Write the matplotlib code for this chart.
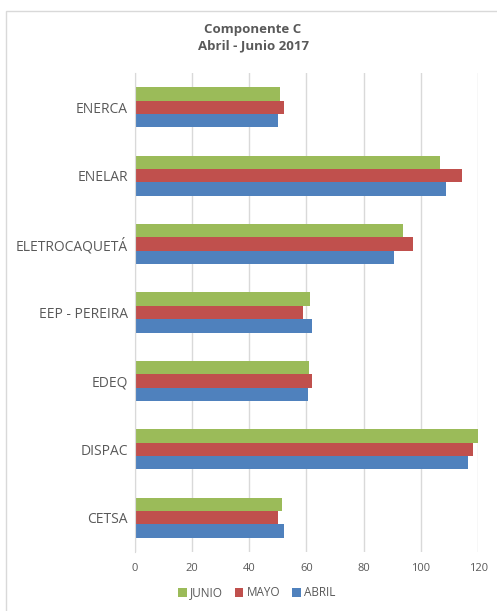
import matplotlib.pyplot as plt
from matplotlib.patches import Rectangle
import numpy as np

# Data, bottom to top as in the source chart
empresas = ["CETSA", "DISPAC", "EDEQ", "EEP - PEREIRA", "ELETROCAQUETÁ",
            "ENELAR", "ENERCA"]
abril = [52.0, 116.4, 60.4, 62.0, 90.5, 108.6, 49.9]
mayo = [49.9, 118.1, 62.0, 58.9, 97.1, 114.3, 52.2]
junio = [51.4, 120.2, 61.0, 61.2, 93.6, 106.8, 50.9]
xticks = [0, 20, 40, 60, 80, 100, 120]

gray = "#595959"
plt.rcParams['font.family'] = ['Open Sans', 'DejaVu Sans']

fig = plt.figure(figsize=(4.97, 6.11), dpi=100)
ax = fig.add_axes([0.271, 0.0966, 0.6913, 0.7839])

# Chart border like the spreadsheet frame
fig.patches.append(Rectangle((6 / 497, -0.05), 1.0, 1 - 11.5 / 611 + 0.05,
                             transform=fig.transFigure, fill=False,
                             edgecolor="#D9D9D9", linewidth=1))

y = np.arange(len(empresas))
h = 0.195
ax.barh(y - h, abril, height=h, color="#4F81BD", label="ABRIL", zorder=3)
ax.barh(y, mayo, height=h, color="#C0504D", label="MAYO", zorder=3)
ax.barh(y + h, junio, height=h, color="#9BBB59", label="JUNIO", zorder=3)

ax.set_xlim(0, 120)
ax.set_ylim(-0.5, len(empresas) - 0.5)
ax.set_xticks(xticks)
ax.set_yticks(y)
ax.set_yticklabels(empresas)
ax.tick_params(axis="y", length=0, pad=5, labelsize=10, labelcolor=gray)
ax.tick_params(axis="x", length=0, pad=8, labelsize=8, labelcolor=gray)

# Vertical gridlines only
ax.grid(axis="x", color="#D9D9D9", linewidth=1, zorder=0)
for s in ["top", "right", "bottom"]:
    ax.spines[s].set_visible(False)
ax.spines["left"].set_color("#D9D9D9")
ax.spines["left"].set_zorder(4)

fig.text(253 / 497, 1 - 38 / 611, "Componente C\nAbril - Junio 2017",
         ha="center", va="center", fontsize=9.5, fontweight="bold",
         color=gray, linespacing=1.3)

handles, labels = ax.get_legend_handles_labels()
fig.legend(handles[::-1], labels[::-1], loc="center",
           bbox_to_anchor=(257 / 497, 1 - 593 / 611), ncol=3, frameon=False,
           fontsize=8.5, labelcolor=gray, handlelength=0.7, handleheight=0.7,
           handletextpad=0.3, columnspacing=1.0)

plt.savefig("out.png", dpi=100)
